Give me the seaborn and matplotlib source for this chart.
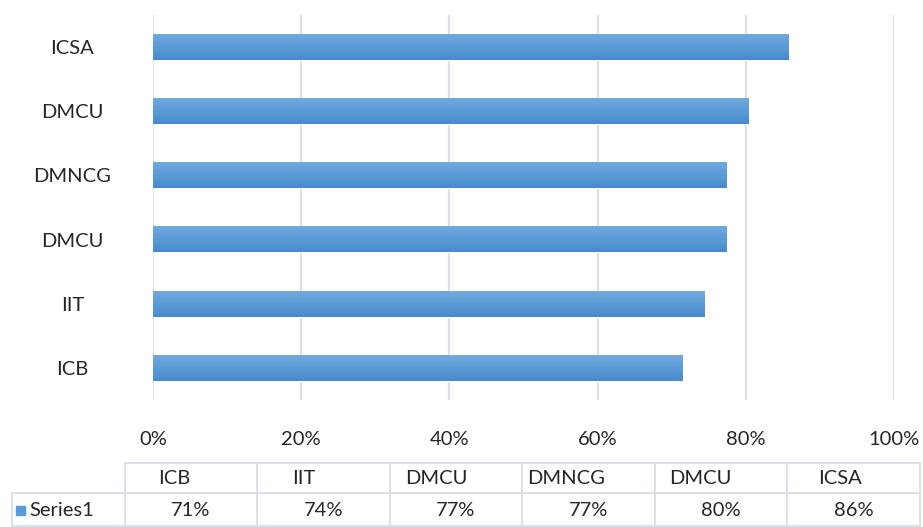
import numpy as np
import pandas as pd
import seaborn as sns
import matplotlib.pyplot as plt
from matplotlib.lines import Line2D
from matplotlib.patches import Rectangle
from matplotlib.colors import LinearSegmentedColormap

# data
categories = ["ICB", "IIT", "DMCU", "DMNCG", "DMCU", "ICSA"]
values = [0.714, 0.744, 0.774, 0.774, 0.804, 0.858]
series_name = "Series1"
x_ticks = [0, 0.2, 0.4, 0.6, 0.8, 1.0]

sns.set_style("white")
plt.rcParams["font.family"] = ["Lato", "DejaVu Sans"]

W, H = 923, 527
fig = plt.figure(figsize=(W / 100, H / 100), dpi=100)
ax = fig.add_axes([153 / W, 1 - 400 / H, (894 - 153) / W, (400 - 15) / H])

# unique keys because DMCU appears twice
df = pd.DataFrame({"key": [str(i) for i in range(len(categories))], "value": values})
order = df["key"][::-1].tolist()
sns.barplot(data=df, x="value", y="key", order=order, orient="h",
            color="#5B9BD5", saturation=1, width=0.4, ax=ax)

# excel-ish vertical gradient on each bar
cmap = LinearSegmentedColormap.from_list("bar", ["#72A9DD", "#5B9BD5", "#4A8ACA"])
grad = np.linspace(0, 1, 64).reshape(-1, 1)
for p in ax.patches:
    x0, y0, w, h = p.get_x(), p.get_y(), p.get_width(), p.get_height()
    ax.imshow(grad, extent=[x0, x0 + w, y0 + h, y0], origin="upper",
              aspect="auto", cmap=cmap, clip_path=p, zorder=2)

ax.set_xlim(0, 1)
ax.set_ylim(len(categories) - 0.5, -0.5)
ax.set_xticks(x_ticks)
ax.set_xticklabels([f"{int(round(t * 100))}%" for t in x_ticks])
ax.set_yticks(range(len(categories)))
ax.set_yticklabels(categories[::-1])
ax.set_xlabel("")
ax.set_ylabel("")
ax.xaxis.grid(True, color="#DCE0E8", linewidth=1.6)
ax.set_axisbelow(True)
ax.tick_params(axis="x", length=0, pad=22, labelsize=14.5)
ax.tick_params(axis="y", length=0, pad=58, labelsize=14.5)
for lab in ax.get_yticklabels():
    lab.set_horizontalalignment("center")
sns.despine(ax=ax, left=True, bottom=True)

# data table under the chart (pixel layout)
def px_line(x0, y0, x1, y1):
    fig.add_artist(Line2D([x0 / W, x1 / W], [1 - y0 / H, 1 - y1 / H],
                          transform=fig.transFigure, color="#DCE0E8", lw=1.4))

col_edges = [125, 257, 390, 522, 655, 787, 920]
row_top, row_mid, row_bot = 463, 493, 527
px_line(col_edges[0], row_top, col_edges[-1], row_top)
px_line(12, row_mid, col_edges[-1], row_mid)
px_line(12, row_bot - 1, col_edges[-1], row_bot - 1)
px_line(12, row_mid, 12, row_bot)
for xe in col_edges:
    px_line(xe, row_top, xe, row_bot)

head_x = [158, 292, 405, 527, 669, 818]
for cat, hx in zip(categories, head_x):
    fig.text(hx / W, 1 - 478 / H, cat, ha="left", va="center", fontsize=14.5)
for i, v in enumerate(values):
    cx = (col_edges[i] + col_edges[i + 1]) / 2
    fig.text(cx / W, 1 - 511 / H, f"{v:.0%}", ha="center", va="center", fontsize=14.5)

fig.add_artist(Rectangle((16 / W, 1 - 515 / H), 9 / W, 9 / H,
                         transform=fig.transFigure, color="#5B9BD5"))
fig.text(29 / W, 1 - 511 / H, series_name, ha="left", va="center", fontsize=14.5)

fig.savefig("out.png", dpi=100)
